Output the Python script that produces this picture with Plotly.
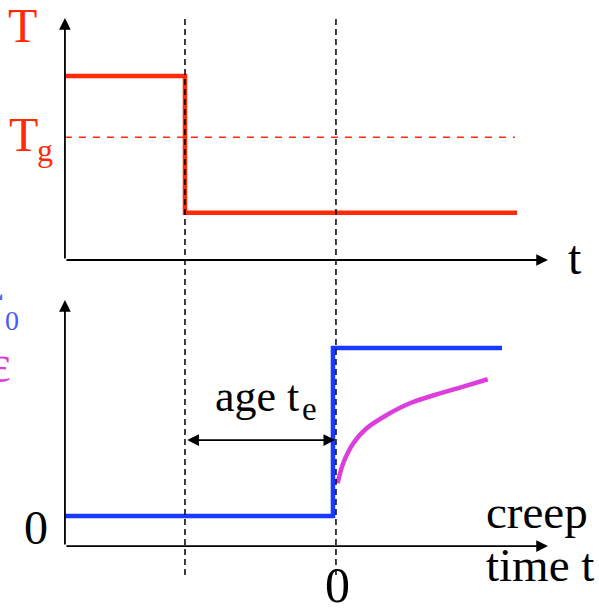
import plotly.graph_objects as go

# ---------------- data (schematic units) ----------------
# time axis: quench at t = -t_e, creep load applied at t = 0 (t_e = 1)
t_origin = -1.795          # where the time axes start
t_quench = -1.0            # temperature jump (start of aging)
t_load = 0.0               # start of creep (stress step)
t_end_T = 1.199            # end of temperature curve
t_end_Tg = 1.185           # end of Tg reference line
t_end_sigma = 1.10         # end of stress curve
t_axis_end = 1.404         # tip of time axes

T_high = 3.0
T_g = 2.0
T_low = 0.77
T_axis_top = 3.946

sigma_low = 0.0
sigma_0 = 1.0
sigma_axis = -0.179
sigma_axis_top = 1.286
t_sigma_step = -0.02

# creep strain response after loading
creep_t = [0.011, 0.048, 0.115, 0.203, 0.336, 0.490, 0.689, 0.843, 1.005]
creep_eps = [0.195, 0.314, 0.433, 0.522, 0.601, 0.671, 0.730, 0.770, 0.814]

# ---------------- styling ----------------
RED = "rgb(255,42,8)"
BLUE = "rgb(22,58,255)"
BLUE_LBL = "rgb(70,92,255)"
MAG = "rgb(220,62,220)"
FONT = "Liberation Serif"
W, H = 599, 608
split = 1 - 285 / H

fig = go.Figure()

# temperature history (top panel)
fig.add_trace(go.Scatter(x=[t_origin, t_quench, t_quench, t_end_T],
                         y=[T_high, T_high, T_low, T_low],
                         mode="lines", line=dict(color=RED, width=4.5),
                         xaxis="x", yaxis="y"))
fig.add_trace(go.Scatter(x=[t_origin, t_end_Tg], y=[T_g, T_g],
                         mode="lines", line=dict(color=RED, width=1.5, dash="7px,7px"),
                         xaxis="x", yaxis="y"))

# stress history (bottom panel)
fig.add_trace(go.Scatter(x=[t_origin, t_sigma_step, t_sigma_step, t_end_sigma],
                         y=[sigma_low, sigma_low, sigma_0, sigma_0],
                         mode="lines", line=dict(color=BLUE, width=4.5),
                         xaxis="x2", yaxis="y2"))
fig.add_trace(go.Scatter(x=creep_t, y=creep_eps, mode="lines",
                         line=dict(color=MAG, width=4.5, shape="spline"),
                         xaxis="x2", yaxis="y2"))

xr = [-2.225, 1.742]
ax_common = dict(visible=False, showgrid=False, zeroline=False, fixedrange=True)
fig.update_layout(
    width=W, height=H, margin=dict(l=0, r=0, t=0, b=0),
    paper_bgcolor="white", plot_bgcolor="rgba(0,0,0,0)", showlegend=False,
    xaxis=dict(range=xr, domain=[0, 1], anchor="y", **ax_common),
    yaxis=dict(range=[-0.4076, 4.239], domain=[split, 1], anchor="x", **ax_common),
    xaxis2=dict(range=xr, domain=[0, 1], anchor="y2", **ax_common),
    yaxis2=dict(range=[-0.5476, 1.375], domain=[0, split], anchor="x2", **ax_common),
)

# dashed vertical guide lines through both panels
for tv in (t_quench, t_load):
    fig.add_shape(type="line", xref="x", yref="paper", x0=tv, x1=tv,
                  y0=1 - 575 / H, y1=1 - 15 / H,
                  line=dict(color="black", width=1.5, dash="6px,4px"))

annotations = []

def arrow(x0, y0, x1, y1, xa, ya, both=False):
    d = dict(x=x1, y=y1, ax=x0, ay=y0, xref=xa, yref=ya, axref=xa, ayref=ya,
             text="", showarrow=True, arrowhead=2, arrowsize=1.3, arrowwidth=1.8,
             arrowcolor="black", standoff=0, startstandoff=0)
    if both:
        d.update(arrowside="end+start", startarrowhead=2, startarrowsize=1.3)
    annotations.append(d)

# axes with arrow tips
arrow(t_origin, 0, t_origin, T_axis_top, "x", "y")
arrow(t_origin, 0, t_axis_end, 0, "x", "y")
arrow(t_origin, sigma_axis, t_origin, sigma_axis_top, "x2", "y2")
arrow(t_origin, sigma_axis, t_axis_end, sigma_axis, "x2", "y2")
# age arrow
arrow(t_quench + 0.005, 0.452, t_load - 0.005, 0.452, "x2", "y2", both=True)

def label(text, px, py, size=48, color="black", xanchor="center"):
    annotations.append(dict(text=text, x=px / W, y=1 - py / H, xref="paper", yref="paper",
                            showarrow=False, xanchor=xanchor, yanchor="middle",
                            font=dict(family=FONT, size=size, color=color)))

label("T", 22, 26, color=RED)
label("T", 7, 134, color=RED, xanchor="left")
label("g", 45, 150, size=32, color=RED)
label("σ", 5, 303, color=BLUE_LBL, xanchor="right")
label("0", 12, 320, size=28, color=BLUE_LBL)
label("ε", 13, 363, size=52, color=MAG, xanchor="right")
label("0", 36, 527)
label("0", 337, 585, size=50)
label("t", 575, 257)
label("creep", 484, 512, size=47, xanchor="left")
label("time t", 484, 565, size=47, xanchor="left")
label("age t", 213, 396, size=44, xanchor="left")
label("e", 309, 409, size=33)

fig.update_layout(annotations=annotations)
fig.write_html("out.html")
